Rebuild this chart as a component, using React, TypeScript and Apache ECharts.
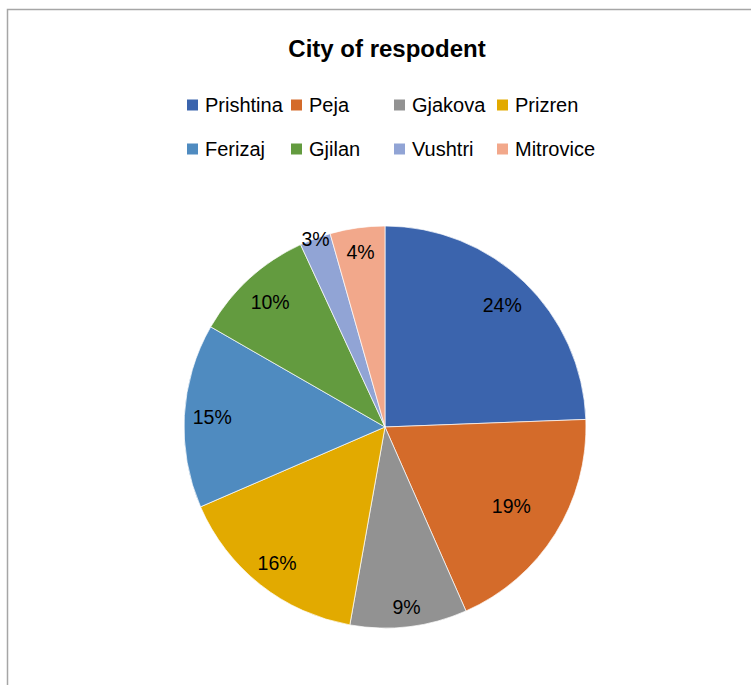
import React, { useEffect, useRef } from "react";
import * as echarts from "echarts";

const cities = ["Prishtina", "Peja", "Gjakova", "Prizren", "Ferizaj", "Gjilan", "Vushtri", "Mitrovice"];
// shares in percent (labels show them rounded)
const shares = [24.4, 19.0, 9.4, 15.7, 14.8, 9.8, 2.5, 4.4];
const colors = ["#3B64AD", "#D46B2A", "#929292", "#E2AA00", "#4F8BC0", "#639B3F", "#91A4D5", "#F2A88B"];
const titleText = "City of respodent";

// label distance from centre (px), per slice (style)
const labelRadius: Record<string, number> = {
  Prishtina: 166,
  Peja: 146,
  Gjakova: 178,
  Prizren: 171,
  Ferizaj: 170,
  Gjilan: 167,
  Vushtri: 197,
  Mitrovice: 174,
};

export default function App() {
  const ref = useRef<HTMLDivElement>(null);
  useEffect(() => {
    if (!ref.current) return;
    const chart = echarts.init(ref.current, null, { renderer: "svg" });
    const font = "'Liberation Sans', Arial, sans-serif";
    const center = [385, 427];
    const legendCols = [180, 284, 387, 490];
    const legendRows = [90, 134];
    const legends = cities.map((c, i) => ({
      left: legendCols[i % 4],
      top: legendRows[Math.floor(i / 4)],
      itemWidth: 13,
      itemHeight: 13,
      icon: "rect",
      selectedMode: false,
      data: [c],
      textStyle: { fontFamily: font, fontSize: 20, color: "#000", padding: [0, 0, 0, 1] },
    }));
    const overlays = cities.map((c) => ({
      type: "pie",
      center,
      radius: [0, labelRadius[c] * 2],
      startAngle: 90,
      clockwise: true,
      silent: true,
      percentPrecision: 0,
      avoidLabelOverlap: false,
      itemStyle: { color: "transparent", borderWidth: 0 },
      label: {
        position: "inside",
        formatter: "{d}%",
        fontFamily: font,
        fontSize: 19.5,
        color: "#000",
      },
      labelLine: { show: false },
      emphasis: { disabled: true },
      data: cities.map((n, i) => ({ name: n, value: shares[i], label: { show: n === c } })),
    }));
    chart.setOption({
      animation: false,
      backgroundColor: "#fff",
      color: colors,
      title: {
        text: titleText,
        left: 382,
        top: 31,
        textAlign: "center",
        textStyle: { fontFamily: font, fontSize: 24, fontWeight: "bold", color: "#000" },
      },
      legend: legends,
      graphic: [
        {
          type: "rect",
          shape: { x: 7.5, y: 9.5, width: 800, height: 800 },
          style: { fill: "none", stroke: "#a6a6a6", lineWidth: 1.5 },
          silent: true,
        },
      ],
      series: [
        {
          type: "pie",
          center,
          radius: [0, 201],
          startAngle: 90,
          clockwise: true,
          avoidLabelOverlap: false,
          itemStyle: { borderColor: "#fff", borderWidth: 0.7 },
          label: { show: false },
          labelLine: { show: false },
          emphasis: { disabled: true },
          data: cities.map((c, i) => ({ name: c, value: shares[i] })),
        },
        ...overlays,
      ],
    });
    return () => chart.dispose();
  }, []);
  return (
    <div
      ref={ref}
      style={{ position: "fixed", left: 0, top: 0, width: 751, height: 685, background: "#fff" }}
    />
  );
}
